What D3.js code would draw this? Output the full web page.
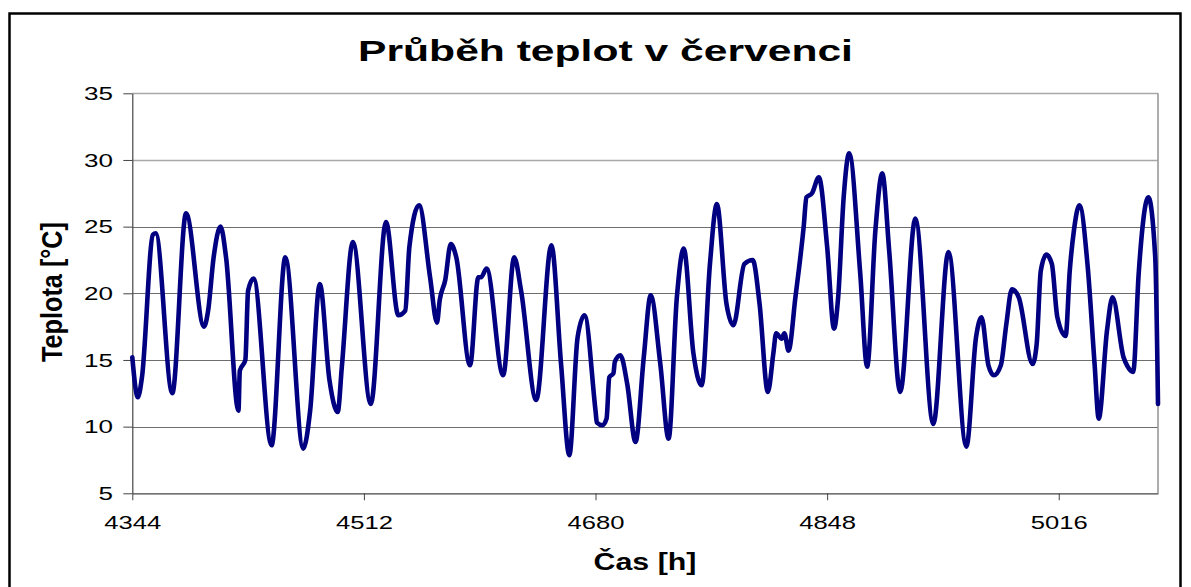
<!DOCTYPE html>
<html>
<head>
<meta charset="utf-8">
<script src="https://cdn.jsdelivr.net/npm/d3@7"></script>
<style>
  html, body { margin: 0; padding: 0; background: #fff; }
  svg { display: block; }
  text { font-family: "Liberation Sans", Arial, sans-serif; fill: #000; }
</style>
</head>
<body>
<svg id="chart" width="1191" height="587"></svg>
<script>
// ---- data ----
const titleText = "Průběh teplot v červenci";
const xLabelText = "Čas [h]";
const yLabelText = "Teplota [°C]";

const hours = [4344,4348,4351,4359,4361,4373,4383,4396,4399,4403,4408,4412,4421,4422,4426,4428,4432,4445,4455,
  4468,4473,4480,4487,4493,4496,4504,4517,4528,4537,4542,4545,4552,4560,4565,4567,4571,4575,4579,
  4589,4595,4597,4601,4613,4621,4626,4637,4648,4655,4661,4667,4672,4680,4681,4685,4688,4690,4693,4694,4698,4703,4709,
  4715,4720,4727,4733,4739,4744,4751,4757,4763,4768,4775,4780,4788,4794,4799,4805,4809,4811,4815,4817,4820,4825,4831,4833,4837,
  4842,4848,4853,4856,4860,4864,4872,4877,4883,4888,4893,4901,4912,4925,4936,4949,
  4956,4960,4965,4969,4974,4978,4982,4987,4997,5000,5003,5007,5011,5015,5021,5024,5027,5031,5037,5042,5045,5051,5055,5063,5066,5070,5074,5081,5086,5088];

const temps = [15.2,12.2,13.7,24.4,24.5,12.5,26.0,17.5,18.7,22.7,25.0,22.7,11.2,14.2,15.0,20.2,21.1,8.6,22.7,
  8.35,11.2,20.7,13.5,11.1,14.5,23.85,11.7,25.35,18.35,18.7,23.5,26.6,21.2,17.8,19.5,21.0,23.7,22.7,
  14.6,21.2,21.2,21.85,13.85,22.7,20.2,12.0,23.6,14.7,7.85,16.7,18.35,11.2,10.3,10.1,10.6,13.7,14.0,14.85,15.35,13.2,8.85,
  15.2,19.85,14.7,9.1,19.7,23.35,15.5,13.1,22.2,26.7,19.2,17.6,22.2,22.5,19.2,12.6,15.5,17.0,16.6,17.0,15.7,19.7,25.0,27.2,27.5,
  28.7,23.5,17.35,19.7,27.2,30.5,21.5,14.5,24.7,29.0,23.2,12.6,25.6,10.2,23.1,8.5,
  16.7,18.2,14.6,13.85,14.6,17.7,20.3,19.7,14.7,16.2,21.7,22.9,22.2,18.2,16.8,21.7,24.7,26.6,22.0,14.7,10.6,17.2,19.7,15.2,14.5,14.1,21.5,27.2,22.7,11.7];

const xTicks = [4344, 4512, 4680, 4848, 5016];
const yTicks = [5, 10, 15, 20, 25, 30, 35];
const xDomain = [4344, 5088];
const yDomain = [5, 35];

// ---- layout ----
const plot = { left: 132.3, right: 1158, top: 93.3, bottom: 493.3 };
const svg = d3.select("#chart");

// stretch a text horizontally (the reference's glyphs are widened)
function stretch(sel, cx, cy, targetWidth) {
  const node = sel.node();
  const w = node.getComputedTextLength();
  const k = targetWidth / w;
  sel.attr("x", 0).attr("y", 0)
     .attr("transform", `translate(${cx},${cy}) scale(${k},1)`);
}

// outer frame
svg.append("rect")
  .attr("x", 9.5).attr("y", 13.5)
  .attr("width", 1171).attr("height", 600)
  .attr("fill", "#fff").attr("stroke", "#000").attr("stroke-width", 2.5);

const x = d3.scaleLinear().domain(xDomain).range([plot.left, plot.right]);
const y = d3.scaleLinear().domain(yDomain).range([plot.bottom, plot.top]);

// gridlines
svg.append("g").selectAll("line")
  .data(yTicks.filter(d => d !== 5))
  .join("line")
  .attr("x1", plot.left).attr("x2", plot.right)
  .attr("y1", d => Math.round(y(d)) + 0.5).attr("y2", d => Math.round(y(d)) + 0.5)
  .attr("stroke", d => d >= 30 ? "#a8a8a8" : "#6e6e6e")
  .attr("stroke-width", d => d >= 30 ? 1.6 : 1.1);

// right border of plot
svg.append("line")
  .attr("x1", plot.right).attr("x2", plot.right)
  .attr("y1", plot.top).attr("y2", plot.bottom)
  .attr("stroke", "#999").attr("stroke-width", 1.6);

// axes
const yAxis = d3.axisLeft(y).tickValues(yTicks).tickSizeInner(9).tickSizeOuter(0).tickPadding(10);
const gy = svg.append("g").attr("transform", `translate(${plot.left},0)`).call(yAxis);
gy.select(".domain").attr("stroke", "#444").attr("stroke-width", 1.2);
gy.selectAll(".tick line").attr("stroke", "#444");
gy.selectAll(".tick text")
  .attr("font-size", 17.5).attr("font-family", "Liberation Sans, Arial, sans-serif")
  .attr("fill", "#000").attr("dy", null)
  .each(function(d) {
    const t = d3.select(this);
    t.attr("dominant-baseline", null);
    const w = this.getComputedTextLength();
    const target = String(d).length * 14.5;
    t.attr("x", 0).attr("y", 0)
     .attr("transform", `translate(-19.3,6.3) scale(${target / w},1)`);
  });

const xAxis = d3.axisBottom(x).tickValues(xTicks).tickFormat(d3.format("d")).tickSizeInner(7).tickSizeOuter(0).tickPadding(17);
const gx = svg.append("g").attr("transform", `translate(0,${plot.bottom})`).call(xAxis);
gx.select(".domain").attr("stroke", "#444").attr("stroke-width", 1.2);
gx.selectAll(".tick line").attr("stroke", "#444");
gx.selectAll(".tick text")
  .attr("font-size", 17.5).attr("font-family", "Liberation Sans, Arial, sans-serif")
  .attr("fill", "#000").attr("dy", null)
  .each(function() {
    const t = d3.select(this);
    const w = this.getComputedTextLength();
    t.attr("x", 0).attr("y", 0)
     .attr("transform", `translate(0,35.7) scale(${57 / w},1)`);
  });

// line
const pts = hours.map((h, i) => [h, temps[i]]);
const line = d3.line().x(d => x(d[0])).y(d => y(d[1])).curve(d3.curveMonotoneX);
svg.append("path")
  .datum(pts)
  .attr("d", line)
  .attr("fill", "none")
  .attr("stroke", "#000080")
  .attr("stroke-width", 4.6)
  .attr("stroke-linejoin", "round")
  .attr("stroke-linecap", "round");

// title
const title = svg.append("text")
  .attr("text-anchor", "middle")
  .attr("font-size", 29.5).attr("font-weight", "bold")
  .text(titleText);
stretch(title, 605.5, 61, 495);

// x label
const xl = svg.append("text")
  .attr("text-anchor", "middle")
  .attr("font-size", 23).attr("font-weight", "bold")
  .text(xLabelText);
stretch(xl, 645, 570, 103);

// y label
svg.append("text")
  .attr("transform", "translate(62,292) scale(1.3,1) rotate(-90)")
  .attr("text-anchor", "middle")
  .attr("font-size", 22).attr("font-weight", "bold")
  .attr("textLength", 140).attr("lengthAdjust", "spacingAndGlyphs")
  .text(yLabelText);
</script>
</body>
</html>
